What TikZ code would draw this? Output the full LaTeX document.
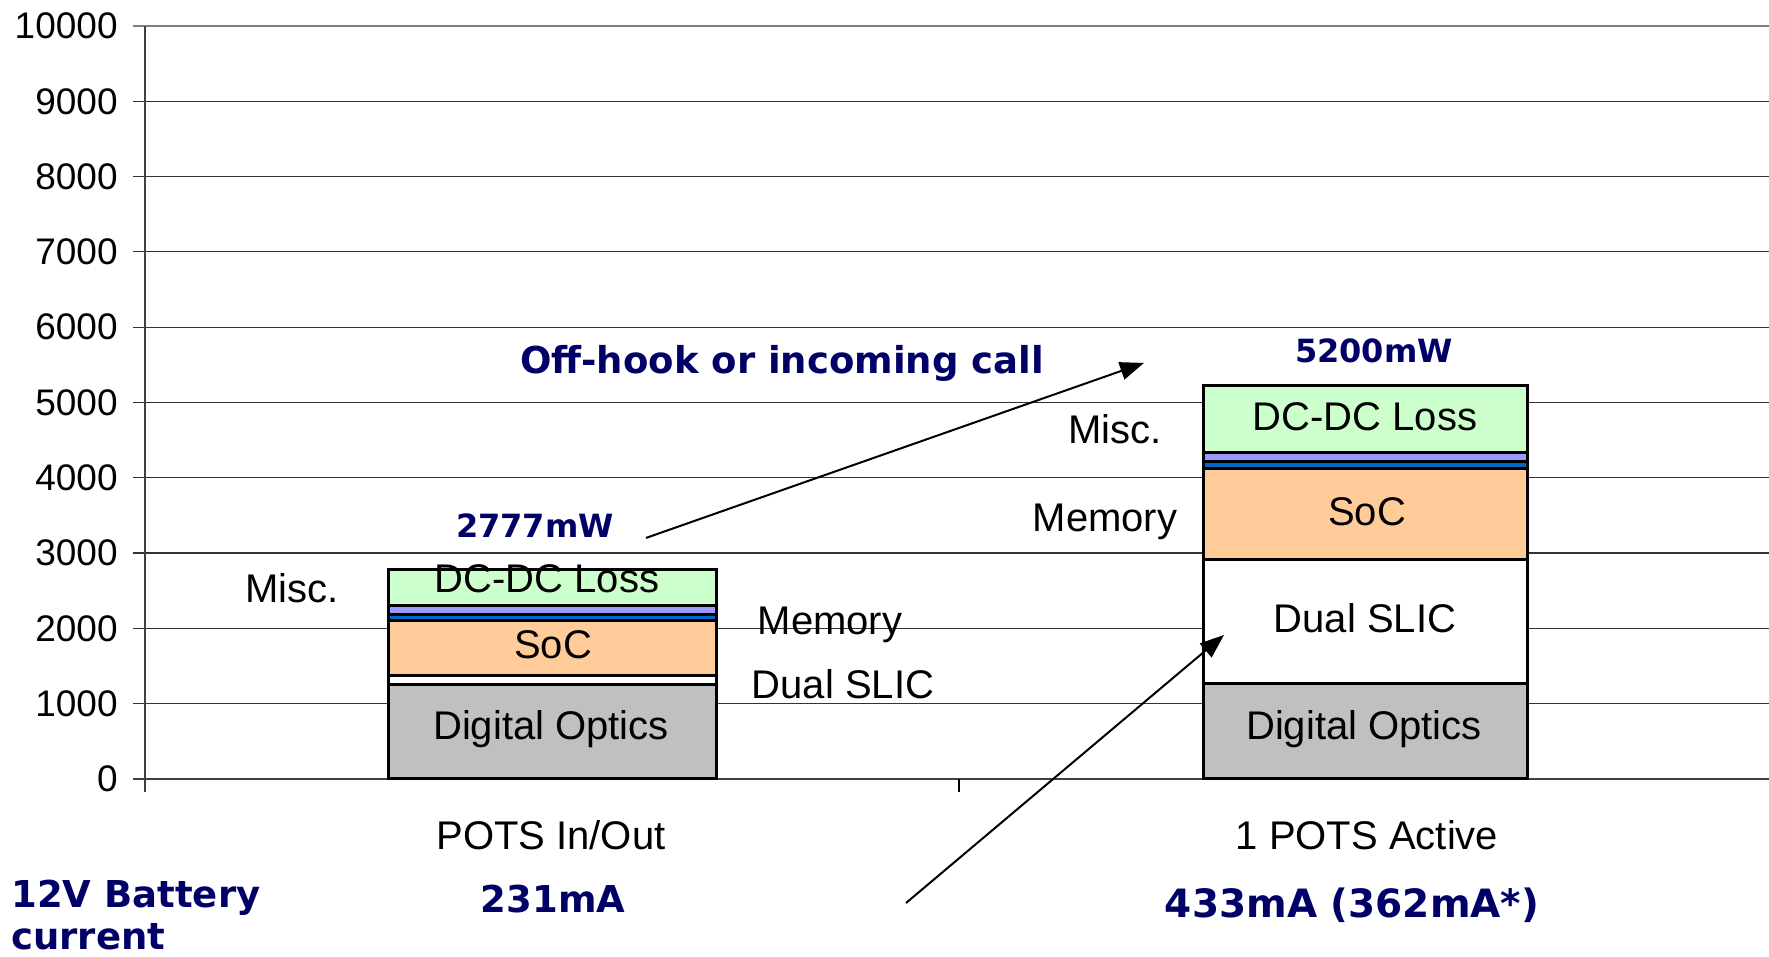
\documentclass[tikz,border=0pt]{standalone}
\usepackage{fontspec}
\setmainfont{Liberation Sans}
\newfontfamily\verd{DejaVu Sans}
\usetikzlibrary{arrows.meta}
\definecolor{optics}{HTML}{C0C0C0}
\definecolor{soc}{HTML}{FFCC99}
\definecolor{dcdc}{HTML}{CCFFCC}
\definecolor{misc}{HTML}{9999FF}
\definecolor{mem}{HTML}{0066CC}
\definecolor{navy}{HTML}{000066}
\def\layer#1{\draw[seg,fill=#1]}
\def\gline{\draw[line width=0.6pt,black!80]}

\begin{document}
\begin{tikzpicture}[x=0.5pt,y=0.5pt,
    seg/.style={draw=black,line width=1.5pt},
    lbl/.style={font=\fontsize{20}{24}\selectfont,inner sep=0pt},
    tick/.style={font=\fontsize{18.5}{22}\selectfont,anchor=east,inner sep=0pt},
    note/.style={font=\verd\bfseries\fontsize{18.5}{21}\selectfont,text=navy,inner sep=0pt},
    small note/.style={note,font=\verd\bfseries\fontsize{16}{19}\selectfont},
    callout/.style={draw,line width=1pt,-{Triangle[length=12pt,width=9pt]}}]
\useasboundingbox (0,0) rectangle (1769,957);
\begin{scope}[shift={(0,178)},yscale=0.0753]
    % grid and axes
    \foreach \v in {1000,2000,...,9000}
        \gline (133,\v) -- (1769,\v);
    \draw[line width=1pt,black!50] (133,10000) -- (1769,10000);
    \foreach \v in {0,1000,...,10000}
        \node[tick] (y\v) at (118,\v) {\v};
    \draw[line width=1pt,black!75] (145,-173) -- (145,10000);
    \draw[line width=1pt,black!75] (133,0) -- (1769,0);
    \draw[line width=0.6pt] (959,0) -- (959,-173);
    % POTS In/Out
    \layer{optics} (388,0) rectangle (716,1250);
    \layer{white}  (388,1250) rectangle (716,1370);
    \layer{soc}    (388,1370) rectangle (716,2110);
    \layer{mem}    (388,2110) rectangle (716,2190);
    \layer{misc}   (388,2190) rectangle (716,2310);
    \layer{dcdc}   (388,2310) rectangle (716,2777);
    % 1 POTS Active
    \layer{optics} (1203,0) rectangle (1527,1265);
    \layer{white}  (1203,1265) rectangle (1527,2915);
    \layer{soc}    (1203,2915) rectangle (1527,4125);
    \layer{mem}    (1203,4125) rectangle (1527,4215);
    \layer{misc}   (1203,4215) rectangle (1527,4335);
    \layer{dcdc}   (1203,4335) rectangle (1527,5220);
    % labels inside the bars
    \node[lbl] (opticsA) at (551,664) {Digital Optics};
    \node[lbl] (socA)    at (553,1780) {SoC};
    \node[lbl] (dcdcA)   at (547,2656) {DC-DC Loss};
    \node[lbl] (opticsB) at (1364,664) {Digital Optics};
    \node[lbl] (slicB)   at (1365,2138) {Dual SLIC};
    \node[lbl] (socB)    at (1367,3546) {SoC};
    \node[lbl] (dcdcB)   at (1365,4807) {DC-DC Loss};
    % labels beside the bars
    \node[lbl] (miscA) at (292,2537) {Misc.};
    \node[lbl] (memA)  at (830,2040) {Memory};
    \node[lbl] (slicA) at (843,1262) {Dual SLIC};
    \node[lbl] (miscB) at (1115,4648) {Misc.};
    \node[lbl] (memB)  at (1105,3410) {Memory};
    % categories
    \node[lbl] (catA) at (551,-744) {POTS In/Out};
    \node[lbl] (catB) at (1367,-744) {1 POTS Active};
    % notes
    \node[small note] (totA) at (535,3360) {2777mW};
    \node[small note] (totB) at (1374,5684) {5200mW};
    \node[note] (offhook) at (782,5525) {Off-hook or incoming call};
    \node[note,align=left,anchor=west] (battery) at (11,-1800) {12V Battery\\current};
    \node[note] (curA) at (553,-1594) {231mA};
    \node[note,font=\verd\bfseries\fontsize{19.5}{22}\selectfont] (curB) at (1352,-1673) {433mA (362mA*)};
    % call-outs
    \coordinate (riseA) at (646,3201);
    \coordinate (riseB) at (1144,5525);
    \coordinate (slicfoot) at (906,-1647);
    \coordinate (slictip) at (1224,1912);
    \draw[callout] (riseA) -- (riseB);
    \draw[callout] (slicfoot) -- (slictip);
\end{scope}
\end{tikzpicture}
\end{document}
